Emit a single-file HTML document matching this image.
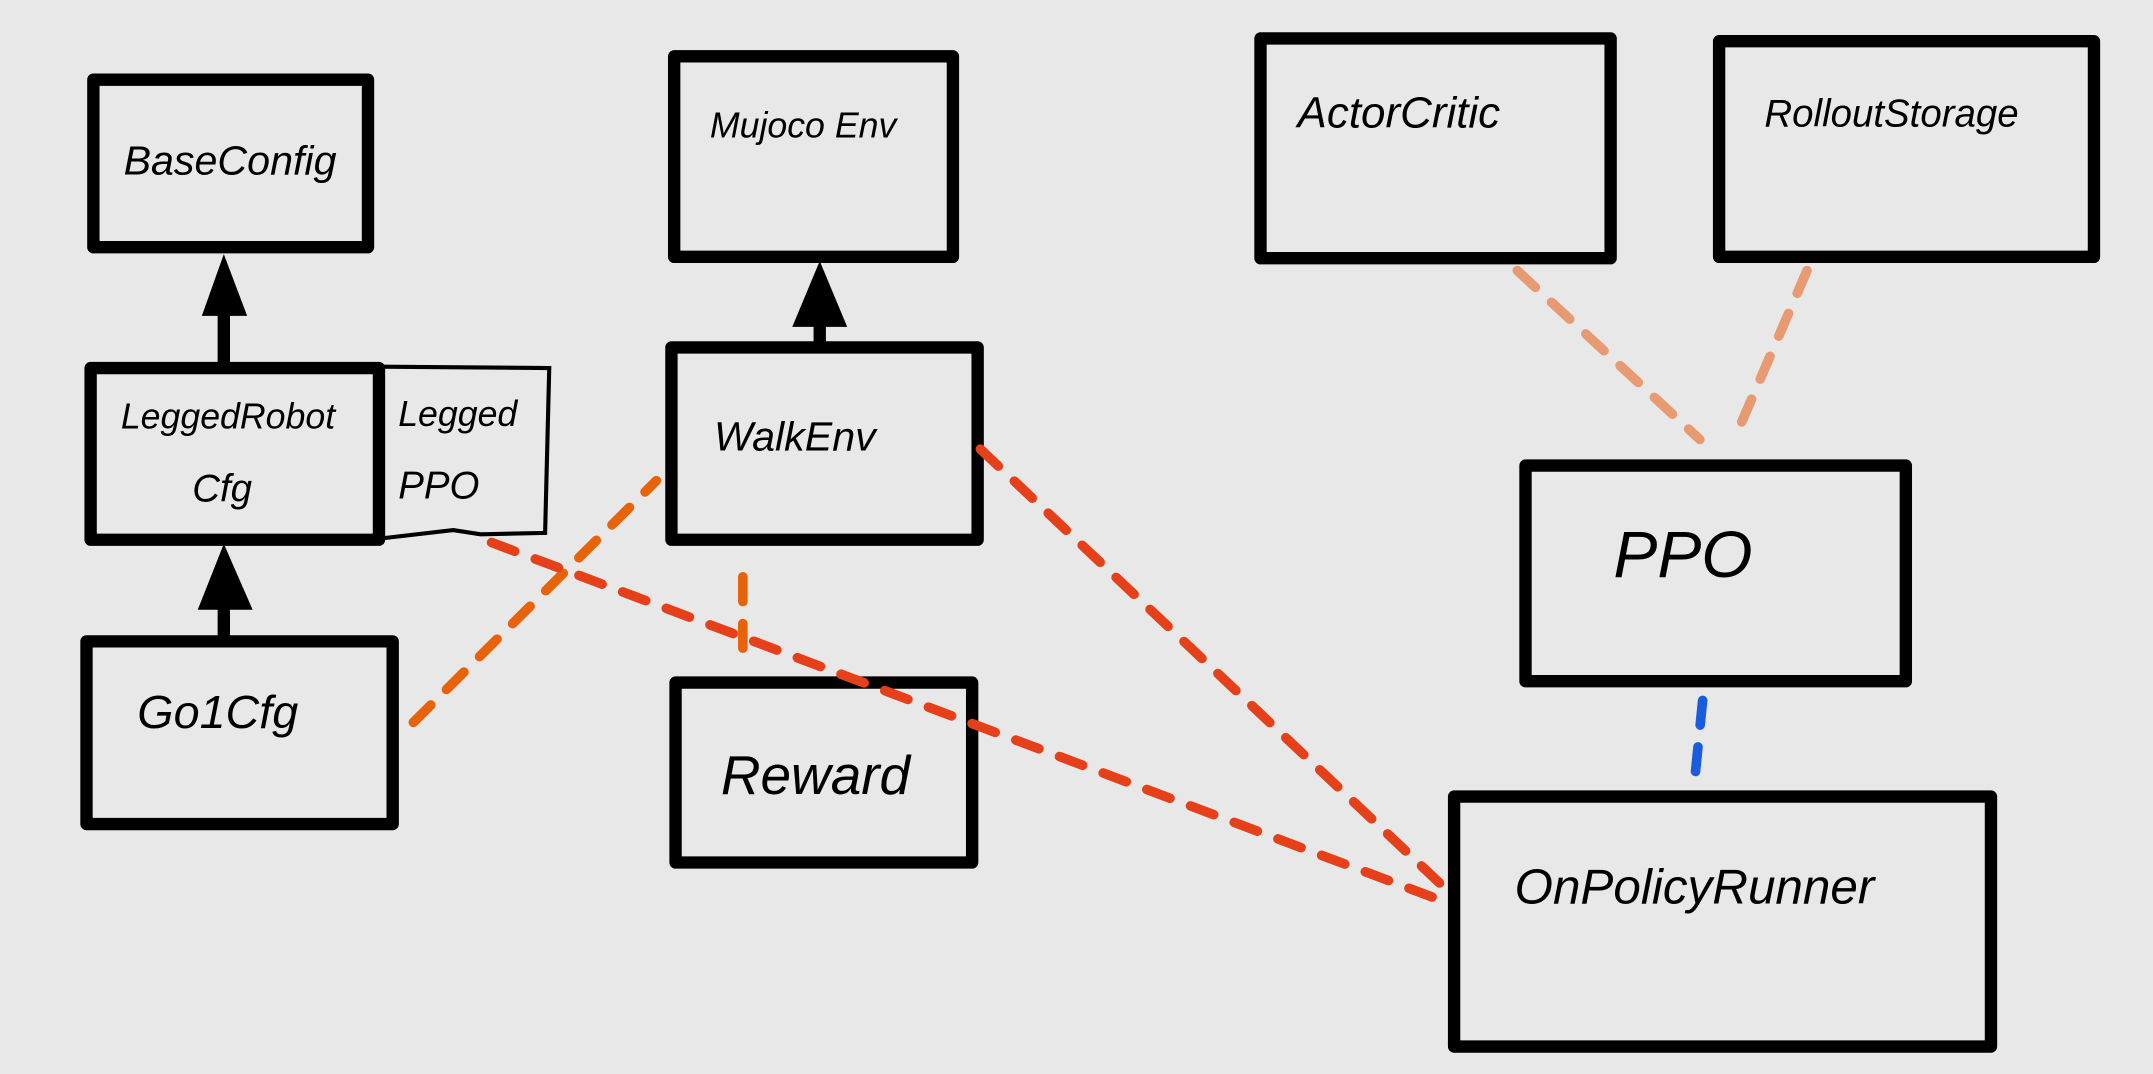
<!DOCTYPE html>
<html><head><meta charset="utf-8"><style>
html,body{margin:0;padding:0;background:#e8e8e8;}
svg{display:block}
text{font-family:"Liberation Sans",sans-serif;font-style:italic;fill:#000;}
</style></head><body>
<svg width="2153" height="1074" viewBox="0 0 1568 782" preserveAspectRatio="none" xmlns="http://www.w3.org/2000/svg">
<rect width="1568" height="782" fill="#e8e8e8"/>
<g fill="none" stroke="#000" stroke-width="9" stroke-linejoin="round">
<rect x="68" y="58" width="200" height="122"/>
<rect x="66" y="268" width="210" height="125"/>
<rect x="63" y="467" width="223" height="133"/>
<rect x="491" y="41" width="203" height="146"/>
<rect x="489" y="253" width="223" height="140"/>
<rect x="492" y="497" width="216" height="131"/>
<rect x="918" y="28" width="255" height="160"/>
<rect x="1252" y="30" width="273" height="157"/>
<rect x="1111" y="339" width="277" height="157"/>
<rect x="1059" y="580" width="391" height="182"/>
</g>
<path d="M276 267 L400 268 L397 388 L350 389 L330 386 L278 392" fill="none" stroke="#000" stroke-width="3"/>
<g stroke="#000" stroke-width="9">
<line x1="163" y1="268" x2="163" y2="225"/>
<line x1="163" y1="466" x2="163" y2="440"/>
<line x1="597" y1="252" x2="597" y2="230"/>
</g>
<g fill="#000">
<polygon points="163,185 147,230 180,230"/>
<polygon points="163,396 144,444 184,444"/>
<polygon points="597,190 577,238 617,238"/>
</g>
<g fill="none" stroke-width="7" stroke-linecap="round" stroke-dasharray="18 16">
<line x1="301" y1="526" x2="478" y2="350" stroke="#e8620a"/>
<line x1="541" y1="420" x2="541" y2="485" stroke="#e8620a"/>
<line x1="358" y1="395" x2="1048" y2="655" stroke="#e5401a"/>
<line x1="714" y1="327" x2="1058" y2="652" stroke="#e5401a"/>
<line x1="1105" y1="197" x2="1238" y2="320" stroke="#e89a72"/>
<line x1="1316" y1="197" x2="1263" y2="320" stroke="#e89a72"/>
<line x1="1240" y1="510" x2="1234" y2="570" stroke="#1a5ce0"/>
</g>
<text x="90" y="127" font-size="30">BaseConfig</text>
<text x="88" y="312" font-size="26">LeggedRobot</text>
<text x="140" y="365" font-size="28">Cfg</text>
<text x="290" y="310" font-size="26">Legged</text>
<text x="290" y="363" font-size="28">PPO</text>
<text x="100" y="530" font-size="34">Go1Cfg</text>
<text x="517" y="100" font-size="26">Mujoco Env</text>
<text x="520" y="328" font-size="30">WalkEnv</text>
<text x="525" y="578" font-size="40">Reward</text>
<text x="945" y="93" font-size="32">ActorCritic</text>
<text x="1285" y="92" font-size="28">RolloutStorage</text>
<text x="1175" y="420" font-size="48">PPO</text>
<text x="1103" y="658" font-size="36">OnPolicyRunner</text>
</svg>
</body></html>
